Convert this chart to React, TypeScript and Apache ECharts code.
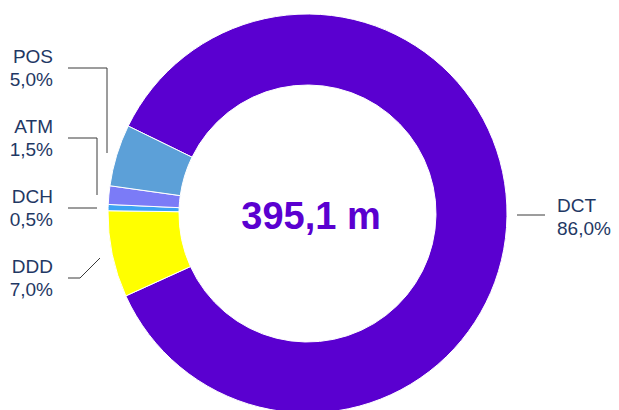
import React, { useEffect, useRef } from "react";
import * as echarts from "echarts";

const categories = ["DCT", "DDD", "DCH", "ATM", "POS"];
const shares = [86.0, 7.0, 0.5, 1.5, 5.0];
const totalLabel = "395,1 m";

const sliceColors = ["#5a00d0", "#ffff00", "#3da3f2", "#7b7bf7", "#5ca0d8"];

// label placements (label anchor and leader-line points)
const labelPlacement: Record<string, { x: number; y: number; align: string; line: number[][] }> = {
  DCT: { x: 557, y: 217, align: "left", line: [[517, 215], [531, 215], [545, 215]] },
  DDD: { x: 53, y: 278, align: "right", line: [[100, 258], [80, 278], [68, 278]] },
  DCH: { x: 53, y: 208, align: "right", line: [[97, 208], [82, 208], [68, 208]] },
  ATM: { x: 53, y: 138, align: "right", line: [[97, 195], [97, 138], [68, 138]] },
  POS: { x: 53, y: 68, align: "right", line: [[107, 153], [107, 68], [68, 68]] },
};

const fmt = (v: number) => v.toFixed(1).replace(".", ",") + "%";

export default function App() {
  const ref = useRef<HTMLDivElement>(null);
  useEffect(() => {
    if (!ref.current) return;
    const chart = echarts.init(ref.current, null, { renderer: "svg" });
    chart.setOption({
      animation: false,
      graphic: [
        {
          type: "text",
          x: 311,
          y: 216,
          style: {
            text: totalLabel,
            fill: "#5a00d0",
            font: "bold 38px 'Liberation Sans', Arial, sans-serif",
            textAlign: "center",
            textVerticalAlign: "middle",
          },
        },
      ],
      series: [
        {
          type: "pie",
          center: [307.5, 213.5],
          radius: [128.5, 199.5],
          startAngle: 154,
          clockwise: true,
          avoidLabelOverlap: false,
          itemStyle: { borderColor: "#ffffff", borderWidth: 1 },
          label: {
            show: true,
            formatter: (p: any) => `${p.name}\n${fmt(p.value)}`,
            color: "#1f3864",
            fontSize: 19,
            lineHeight: 23,
            fontFamily: "'Liberation Sans', Arial, sans-serif",
          },
          labelLine: {
            show: true,
            lineStyle: { color: "#3a3a3a", width: 1 },
          },
          labelLayout: (params: any) => {
            const name = categories[params.dataIndex];
            const p = labelPlacement[name];
            return {
              x: p.x,
              y: p.y,
              align: p.align,
              verticalAlign: "middle",
              labelLinePoints: p.line,
            };
          },
          emphasis: { disabled: true },
          data: categories.map((c, i) => ({
            name: c,
            value: shares[i],
            itemStyle: { color: sliceColors[i] },
          })),
        },
      ],
    });
    return () => chart.dispose();
  }, []);
  return (
    <div
      ref={ref}
      style={{ position: "fixed", left: 0, top: 0, width: 619, height: 410, background: "#ffffff" }}
    />
  );
}
